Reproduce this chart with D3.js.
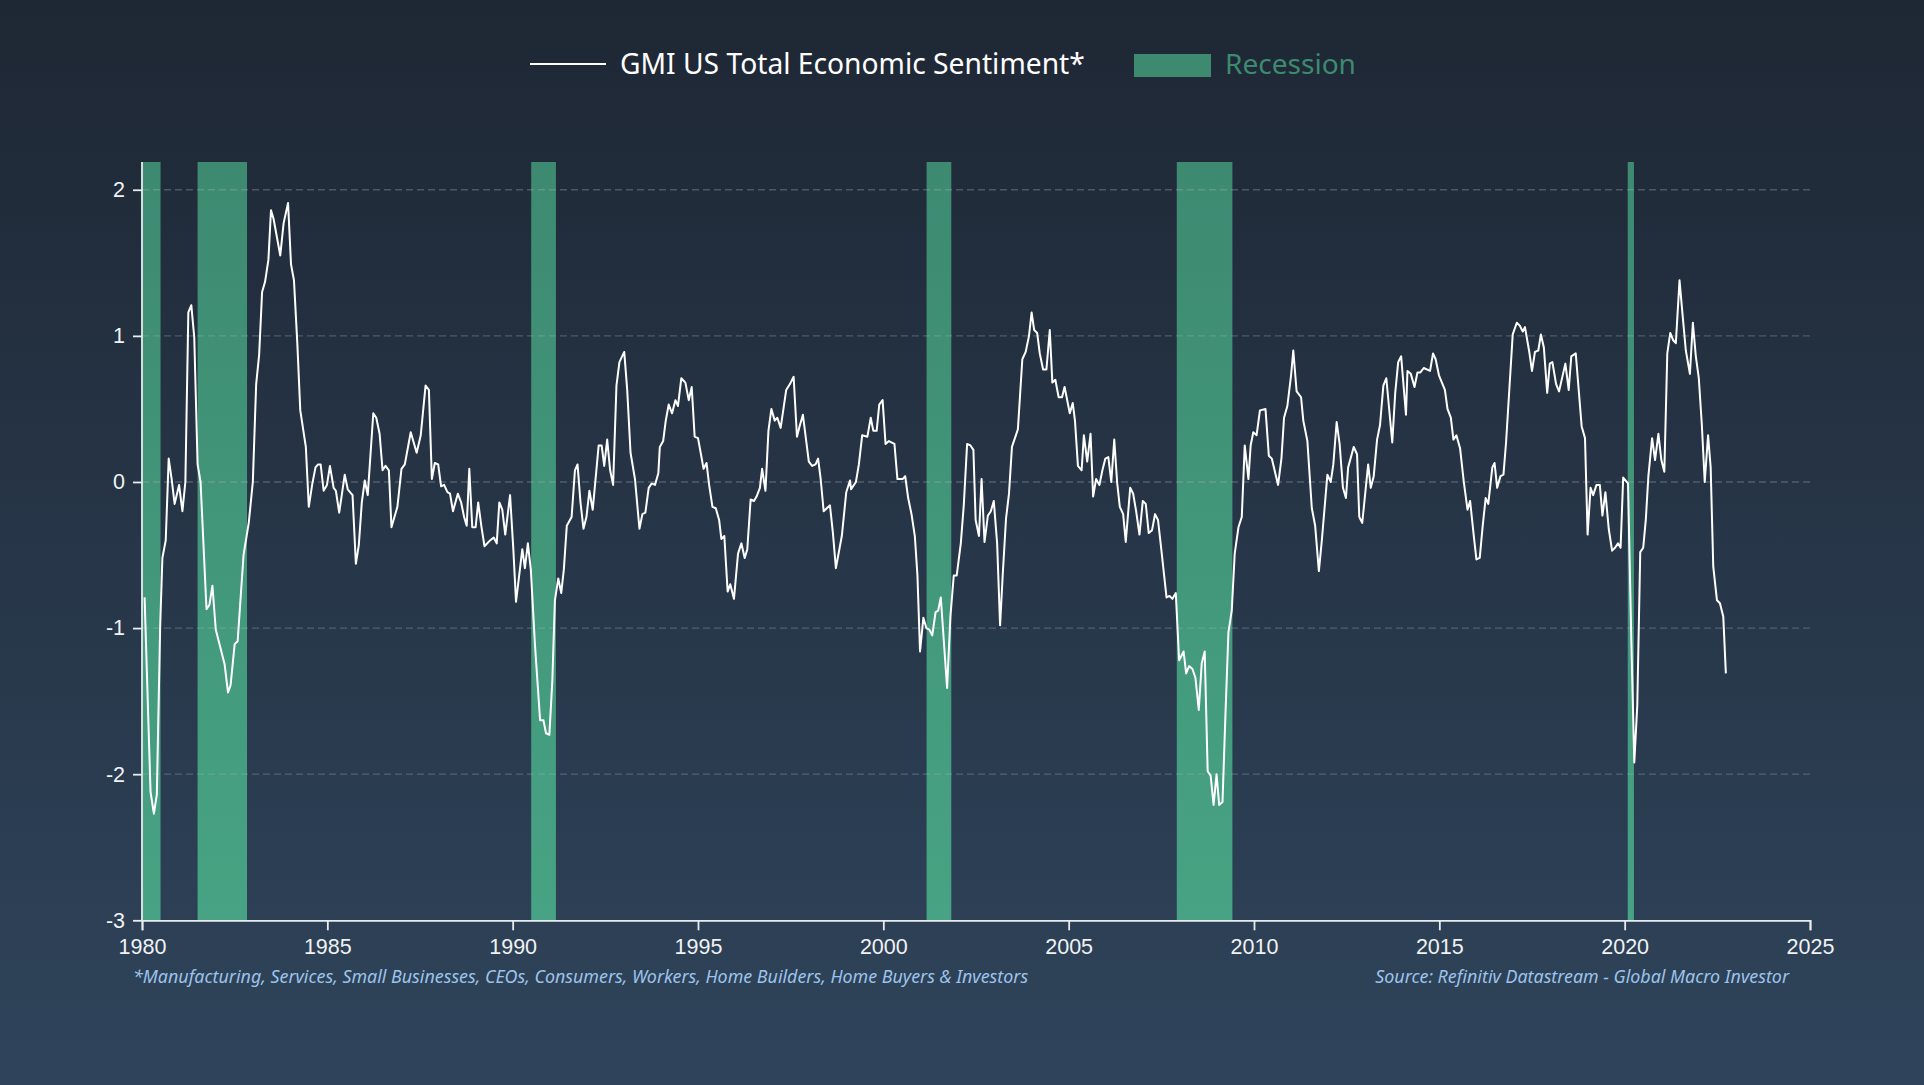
<!DOCTYPE html>
<html><head><meta charset="utf-8">
<script src="https://cdn.jsdelivr.net/npm/d3@7"></script>
<style>
html,body{margin:0;padding:0;background:#1e2735;overflow:hidden;}
svg{display:block;}
</style></head><body>
<svg id="chart" width="1924" height="1085"></svg>
<script>
// ---------------- DATA ----------------
const xTicks = [1980, 1985, 1990, 1995, 2000, 2005, 2010, 2015, 2020, 2025];
const yTicks = [-3, -2, -1, 0, 1, 2];
const gridValues = [-2, -1, 0, 1, 2];
const recessionStart = [1980.0, 1981.5, 1990.5, 2001.167, 2007.917, 2020.083];
const recessionEnd   = [1980.5, 1982.833, 1991.167, 2001.833, 2009.417, 2020.25];
const seriesName = "GMI US Total Economic Sentiment*";
const bandName = "Recession";
const footnote = "*Manufacturing, Services, Small Businesses, CEOs, Consumers, Workers, Home Builders, Home Buyers & Investors";
const source = "Source: Refinitiv Datastream - Global Macro Investor";

// [decimal year, value]
const sentiment1980s = [
[1980.07,-0.79],[1980.23,-2.12],[1980.32,-2.27],[1980.40,-2.14],[1980.49,-0.99],[1980.55,-0.52],[1980.64,-0.40],[1980.72,0.16],
[1980.80,0.02],[1980.88,-0.15],[1981.00,-0.02],[1981.09,-0.20],[1981.17,0.00],[1981.25,1.16],[1981.33,1.21],[1981.41,0.99],
[1981.50,0.12],[1981.58,0.00],[1981.74,-0.87],[1981.82,-0.84],[1981.90,-0.71],[1981.99,-1.01],[1982.23,-1.25],[1982.32,-1.44],
[1982.39,-1.39],[1982.50,-1.11],[1982.58,-1.09],[1982.74,-0.50],[1982.88,-0.28],[1982.99,0.00],[1983.08,0.67],[1983.16,0.87],
[1983.24,1.30],[1983.32,1.37],[1983.41,1.52],[1983.48,1.86],[1983.55,1.80],[1983.73,1.55],[1983.82,1.77],[1983.94,1.91],
[1984.02,1.49],[1984.10,1.38],[1984.19,0.95],[1984.27,0.49],[1984.42,0.24],[1984.50,-0.17],[1984.59,-0.02],[1984.68,0.10],
[1984.75,0.12],[1984.82,0.12],[1984.90,-0.06],[1984.99,-0.02],[1985.07,0.11],[1985.17,-0.04],[1985.23,-0.06],[1985.32,-0.21],
[1985.47,0.05],[1985.55,-0.05],[1985.68,-0.09],[1985.77,-0.56],[1985.85,-0.43],[1985.93,-0.14],[1986.01,0.01],[1986.09,-0.09],
[1986.24,0.47],[1986.32,0.44],[1986.41,0.33],[1986.49,0.08],[1986.57,0.11],[1986.66,0.08],[1986.73,-0.31],[1986.89,-0.17],
[1987.00,0.09],[1987.09,0.12],[1987.25,0.34],[1987.41,0.20],[1987.52,0.32],[1987.65,0.66],[1987.74,0.63],[1987.82,0.02],
[1987.90,0.13],[1987.99,0.12],[1988.07,-0.03],[1988.15,-0.02],[1988.24,-0.07],[1988.31,-0.08],[1988.39,-0.20],[1988.52,-0.08],
[1988.61,-0.14],[1988.69,-0.24],[1988.76,-0.30],[1988.83,0.09],[1988.91,-0.31],[1989.00,-0.31],[1989.07,-0.14],[1989.16,-0.31],
[1989.24,-0.44],[1989.39,-0.40],[1989.49,-0.38],[1989.57,-0.42],[1989.64,-0.14],[1989.72,-0.19],[1989.80,-0.36],[1989.93,-0.09]
];
const sentiment1990s = [
[1990.02,-0.47],[1990.09,-0.82],[1990.18,-0.63],[1990.26,-0.46],[1990.33,-0.59],[1990.41,-0.42],[1990.49,-0.60],[1990.60,-1.11],
[1990.74,-1.63],[1990.83,-1.63],[1990.90,-1.72],[1990.99,-1.73],[1991.07,-1.36],[1991.14,-0.81],[1991.23,-0.66],[1991.31,-0.76],
[1991.38,-0.60],[1991.46,-0.30],[1991.59,-0.24],[1991.68,0.08],[1991.75,0.12],[1991.83,-0.14],[1991.91,-0.32],[1991.99,-0.24],
[1992.07,-0.06],[1992.16,-0.19],[1992.24,0.03],[1992.32,0.25],[1992.40,0.25],[1992.47,0.11],[1992.55,0.29],[1992.63,0.08],
[1992.71,-0.02],[1992.80,0.66],[1992.88,0.82],[1993.01,0.89],[1993.09,0.63],[1993.18,0.20],[1993.30,0.02],[1993.42,-0.32],
[1993.50,-0.22],[1993.58,-0.21],[1993.67,-0.04],[1993.75,-0.01],[1993.84,-0.02],[1993.93,0.06],[1993.97,0.24],[1994.06,0.28],
[1994.13,0.42],[1994.21,0.53],[1994.30,0.47],[1994.39,0.56],[1994.46,0.52],[1994.55,0.71],[1994.66,0.68],[1994.75,0.56],
[1994.83,0.65],[1994.91,0.31],[1995.00,0.30],[1995.08,0.19],[1995.15,0.09],[1995.23,0.13],[1995.30,-0.02],[1995.39,-0.17],
[1995.48,-0.18],[1995.57,-0.26],[1995.63,-0.39],[1995.71,-0.37],[1995.80,-0.75],[1995.87,-0.70],[1995.97,-0.80],[1996.08,-0.49],
[1996.17,-0.42],[1996.26,-0.52],[1996.33,-0.46],[1996.42,-0.12],[1996.51,-0.13],[1996.58,-0.10],[1996.67,-0.04],[1996.73,0.09],
[1996.82,-0.06],[1996.90,0.35],[1996.98,0.50],[1997.07,0.42],[1997.14,0.44],[1997.23,0.37],[1997.38,0.63],[1997.48,0.67],
[1997.58,0.72],[1997.67,0.31],[1997.74,0.38],[1997.83,0.46],[1997.99,0.14],[1998.08,0.11],[1998.17,0.12],[1998.24,0.16],
[1998.31,0.02],[1998.39,-0.20],[1998.56,-0.16],[1998.64,-0.35],[1998.72,-0.59],[1998.88,-0.37],[1999.00,-0.07],[1999.10,0.01],
[1999.13,-0.05],[1999.26,0.00],[1999.34,0.12],[1999.43,0.32],[1999.57,0.31],[1999.66,0.44],[1999.73,0.35],[1999.82,0.35],
[1999.89,0.53],[1999.98,0.56]
];
const sentiment2000s = [
[2000.06,0.26],[2000.15,0.28],[2000.30,0.26],[2000.38,0.02],[2000.52,0.02],[2000.59,0.04],[2000.67,-0.11],[2000.76,-0.22],
[2000.85,-0.37],[2000.92,-0.64],[2000.99,-1.16],[2001.08,-0.93],[2001.16,-1.00],[2001.24,-1.01],[2001.32,-1.05],[2001.41,-0.89],
[2001.48,-0.88],[2001.55,-0.79],[2001.72,-1.41],[2001.81,-0.92],[2001.90,-0.64],[2001.98,-0.64],[2002.09,-0.42],[2002.17,-0.16],
[2002.26,0.26],[2002.35,0.25],[2002.43,0.22],[2002.49,-0.26],[2002.58,-0.37],[2002.65,0.02],[2002.73,-0.41],[2002.82,-0.23],
[2002.90,-0.20],[2002.98,-0.13],[2003.07,-0.42],[2003.15,-0.98],[2003.22,-0.64],[2003.31,-0.25],[2003.39,-0.08],[2003.47,0.24],
[2003.63,0.36],[2003.75,0.84],[2003.84,0.89],[2003.93,1.00],[2004.00,1.16],[2004.07,1.04],[2004.15,1.02],[2004.22,0.88],
[2004.31,0.77],[2004.40,0.77],[2004.49,1.04],[2004.56,0.68],[2004.64,0.70],[2004.73,0.58],[2004.82,0.58],[2004.89,0.65],
[2005.03,0.47],[2005.11,0.54],[2005.17,0.42],[2005.25,0.11],[2005.35,0.08],[2005.41,0.32],[2005.50,0.14],[2005.59,0.33],
[2005.66,-0.10],[2005.74,0.02],[2005.83,-0.02],[2005.91,0.08],[2005.99,0.16],[2006.07,0.17],[2006.15,0.00],[2006.23,0.29],
[2006.31,-0.01],[2006.38,-0.17],[2006.47,-0.22],[2006.54,-0.41],[2006.66,-0.04],[2006.74,-0.08],[2006.82,-0.20],[2006.91,-0.36],
[2007.00,-0.13],[2007.08,-0.15],[2007.16,-0.35],[2007.25,-0.33],[2007.33,-0.22],[2007.41,-0.26],[2007.49,-0.44],[2007.64,-0.79],
[2007.72,-0.78],[2007.80,-0.80],[2007.89,-0.76],[2007.98,-1.22],[2008.10,-1.16],[2008.17,-1.31],[2008.25,-1.26],[2008.34,-1.28],
[2008.42,-1.34],[2008.51,-1.56],[2008.59,-1.24],[2008.67,-1.16],[2008.75,-1.98],[2008.83,-2.01],[2008.91,-2.21],[2008.99,-2.00],
[2009.06,-2.21],[2009.15,-2.19],[2009.23,-1.59],[2009.31,-1.03],[2009.40,-0.88],[2009.48,-0.49],[2009.58,-0.31],[2009.67,-0.24],
[2009.75,0.25],[2009.85,0.02],[2009.91,0.25],[2009.98,0.34]
];
const sentiment2010s = [
[2010.07,0.32],[2010.16,0.49],[2010.31,0.50],[2010.40,0.18],[2010.48,0.16],[2010.65,-0.02],[2010.74,0.16],[2010.81,0.44],
[2010.90,0.52],[2011.00,0.73],[2011.06,0.90],[2011.15,0.62],[2011.27,0.58],[2011.33,0.42],[2011.44,0.28],[2011.56,-0.18],
[2011.65,-0.30],[2011.75,-0.61],[2011.83,-0.40],[2011.98,0.05],[2012.07,0.00],[2012.14,0.12],[2012.23,0.41],[2012.31,0.26],
[2012.40,-0.04],[2012.48,-0.11],[2012.54,0.10],[2012.69,0.24],[2012.78,0.19],[2012.84,-0.24],[2012.92,-0.28],[2013.08,0.12],
[2013.15,-0.04],[2013.23,0.04],[2013.32,0.29],[2013.40,0.39],[2013.49,0.66],[2013.57,0.71],[2013.73,0.27],[2013.81,0.61],
[2013.89,0.82],[2013.97,0.86],[2014.10,0.46],[2014.14,0.76],[2014.23,0.74],[2014.33,0.65],[2014.41,0.75],[2014.49,0.75],
[2014.58,0.78],[2014.75,0.76],[2014.83,0.88],[2014.90,0.84],[2014.99,0.73],[2015.07,0.68],[2015.15,0.63],[2015.22,0.50],
[2015.31,0.44],[2015.38,0.29],[2015.46,0.32],[2015.56,0.23],[2015.66,0.00],[2015.76,-0.19],[2015.83,-0.13],[2015.93,-0.37],
[2016.00,-0.53],[2016.09,-0.52],[2016.17,-0.30],[2016.25,-0.11],[2016.32,-0.15],[2016.43,0.10],[2016.49,0.13],[2016.56,-0.04],
[2016.65,0.04],[2016.73,0.05],[2016.80,0.27],[2016.89,0.64],[2016.98,1.01],[2017.09,1.09],[2017.17,1.07],[2017.25,1.03],
[2017.31,1.06],[2017.42,0.90],[2017.50,0.76],[2017.58,0.89],[2017.67,0.90],[2017.74,1.01],[2017.82,0.92],[2017.91,0.61],
[2017.98,0.81],[2018.05,0.82],[2018.15,0.67],[2018.23,0.62],[2018.40,0.81],[2018.49,0.63],[2018.56,0.86],[2018.68,0.88],
[2018.84,0.38],[2018.93,0.30],[2019.00,-0.36],[2019.08,-0.04],[2019.15,-0.09],[2019.24,-0.02],[2019.33,-0.02],[2019.40,-0.23],
[2019.48,-0.07],[2019.57,-0.32],[2019.66,-0.47],[2019.74,-0.45],[2019.82,-0.42],[2019.89,-0.45],[2019.96,0.03]
];
const sentiment2020s = [
[2020.09,-0.01],[2020.18,-1.09],[2020.26,-1.92],[2020.34,-1.53],[2020.42,-0.48],[2020.50,-0.45],[2020.57,-0.26],[2020.64,0.04],
[2020.74,0.30],[2020.82,0.15],[2020.91,0.33],[2020.99,0.15],[2021.07,0.07],[2021.15,0.88],[2021.23,1.02],[2021.31,0.97],
[2021.38,0.95],[2021.48,1.38],[2021.56,1.15],[2021.65,0.90],[2021.76,0.74],[2021.84,1.09],[2021.92,0.86],[2022.00,0.71],
[2022.08,0.40],[2022.16,0.00],[2022.25,0.32],[2022.32,0.10],[2022.39,-0.58],[2022.49,-0.81],[2022.57,-0.83],[2022.66,-0.92],
[2022.73,-1.31]
];

// ---------------- CHART ----------------
const W = 1924, H = 1085;
const margin = {left: 142, right: W - 1810, top: 162, bottom: H - 920.3};
const svg = d3.select("#chart");
const defs = svg.append("defs");

const bg = defs.append("linearGradient").attr("id","bg").attr("x1",0).attr("y1",0).attr("x2",0).attr("y2",1);
bg.append("stop").attr("offset","0%").attr("stop-color","#1e2734");
bg.append("stop").attr("offset","100%").attr("stop-color","#2f445b");
svg.append("rect").attr("width",W).attr("height",H).attr("fill","url(#bg)");

const bandGrad = defs.append("linearGradient").attr("id","bandGrad")
  .attr("gradientUnits","userSpaceOnUse").attr("x1",0).attr("y1",margin.top).attr("x2",0).attr("y2",H-margin.bottom);
bandGrad.append("stop").attr("offset","0%").attr("stop-color","#3d8a71");
bandGrad.append("stop").attr("offset","100%").attr("stop-color","#47a383");

const x = d3.scaleLinear().domain([1980, 2025]).range([margin.left, W - margin.right]);
const y = d3.scaleLinear().domain([-3, 2.19]).range([H - margin.bottom, margin.top]);

// recession bands
const recessions = recessionStart.map((s,i)=>({s, e: recessionEnd[i]}));
svg.append("g").selectAll("rect").data(recessions).join("rect")
  .attr("x", d=>x(d.s)).attr("width", d=>Math.max(1, x(d.e)-x(d.s)))
  .attr("y", margin.top).attr("height", (H-margin.bottom)-margin.top)
  .attr("fill","url(#bandGrad)");

// gridlines
svg.append("g").selectAll("line").data(gridValues).join("line")
  .attr("x1", margin.left).attr("x2", W - margin.right)
  .attr("y1", d=>y(d)).attr("y2", d=>y(d))
  .attr("stroke","rgba(170,180,195,0.32)").attr("stroke-width",1.3)
  .attr("stroke-dasharray","7,4");

// axes
const tickFont = "'Liberation Sans', Arial, sans-serif";
const plainFmt = d => String(d);
const xAxis = svg.append("g").attr("transform",`translate(0,${H-margin.bottom})`)
  .call(d3.axisBottom(x).tickValues(xTicks).tickFormat(plainFmt).tickSize(10).tickPadding(8));
const yAxis = svg.append("g").attr("transform",`translate(${margin.left},0)`)
  .call(d3.axisLeft(y).tickValues(yTicks).tickFormat(plainFmt).tickSize(9).tickPadding(8));
[xAxis, yAxis].forEach(a=>{
  a.select(".domain").attr("stroke","#e8ecf0").attr("stroke-width",1.8);
  a.selectAll(".tick line").attr("stroke","#e8ecf0").attr("stroke-width",1.8);
  a.selectAll(".tick text").attr("fill","#f0f2f4").style("font-family",tickFont).style("font-size","21.5px");
});
yAxis.select(".domain").attr("d", `M0,${H-margin.bottom}V${margin.top}`);

// line
const allData = [].concat(sentiment1980s, sentiment1990s, sentiment2000s, sentiment2010s, sentiment2020s);
svg.append("path").datum(allData)
  .attr("fill","none").attr("stroke","#ffffff").attr("stroke-width",2)
  .attr("stroke-linejoin","round")
  .attr("d", d3.line().x(d=>x(d[0])).y(d=>y(d[1])));

// legend
const legFont = "'Noto Sans', 'Open Sans', sans-serif";
const leg = svg.append("g");
leg.append("line").attr("x1",530).attr("x2",606).attr("y1",64).attr("y2",64)
  .attr("stroke","#ffffff").attr("stroke-width",1.8);
const t1 = leg.append("text").attr("x",620).attr("y",74).attr("fill","#ffffff")
  .style("font-family",legFont).style("font-size","28px").text(seriesName);
leg.append("rect").attr("x",1134).attr("y",54).attr("width",77).attr("height",23).attr("fill","#3d8a70");
const t2 = leg.append("text").attr("x",1225).attr("y",74).attr("fill","#3d8a70")
  .style("font-family",legFont).style("font-size","28px").text(bandName);

// footnotes
const noteFont = "'Noto Sans', 'Open Sans', sans-serif";
const f1 = svg.append("text").attr("x",133).attr("y",983).attr("fill","#9cc3ea")
  .style("font-family",noteFont).style("font-style","italic").style("font-size","17px").text(footnote);
const f2 = svg.append("text").attr("x",1789).attr("y",983).attr("fill","#9cc3ea").attr("text-anchor","end")
  .style("font-family",noteFont).style("font-style","italic").style("font-size","17px").text(source);

// fit text widths to reference widths
function fit(sel, target, base){
  const w = sel.node().getComputedTextLength();
  if (w > 0) sel.style("font-size", (base * target / w).toFixed(2) + "px");
}
fit(t1, 465, 28);
fit(t2, 131, 28);
fit(f1, 895, 17);
fit(f2, 414, 17);
</script>
</body></html>
